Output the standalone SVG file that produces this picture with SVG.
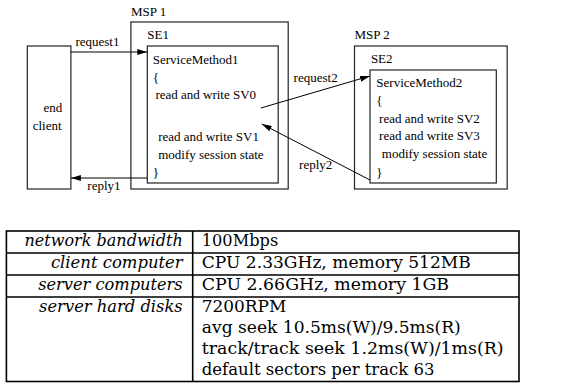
<svg xmlns="http://www.w3.org/2000/svg" width="570" height="383" viewBox="0 0 570 383">
<defs>
<marker id="ah" viewBox="0 0 10 6" refX="10" refY="3" markerWidth="10" markerHeight="6" markerUnits="userSpaceOnUse" orient="auto">
<path d="M0,0 L10,3 L0,6 Z" fill="#000"/>
</marker>
<style>
.box{fill:none;stroke:#222;stroke-width:1.2}
.t{font-family:"Liberation Serif","Times New Roman",serif;font-size:13px;fill:#000}
.c{stroke:#000;stroke-width:1;fill:none;marker-end:url(#ah)}
.tl{stroke:#000;stroke-width:1.6;fill:none}
.ti{font-family:"DejaVu Serif","Liberation Serif",serif;font-style:italic;font-size:16px;fill:#000}
.tr{font-family:"DejaVu Serif","Liberation Serif",serif;font-size:16px;fill:#000}
</style>
</defs>
<rect width="570" height="383" fill="#fff"/>
<g id="client">
<rect class="box" x="27.3" y="46" width="43.6" height="143"/>
<text class="t" x="43.6" y="112">end</text>
<text class="t" x="32.7" y="130">client</text>
</g>
<g id="msp1">
<text class="t" x="130.9" y="16">MSP 1</text>
<rect class="box" x="130.9" y="22" width="157.3" height="167"/>
</g>
<g id="se1">
<text class="t" x="147.3" y="39">SE1</text>
<rect class="box" x="147.3" y="46" width="130.9" height="137"/>
<text class="t" x="152.7" y="64">ServiceMethod1</text>
<text class="t" x="152.7" y="82">{</text>
<text class="t" x="155.4" y="99">read and write SV0</text>
<text class="t" x="158.2" y="141">read and write SV1</text>
<text class="t" x="158.2" y="159">modify session state</text>
<text class="t" x="152.7" y="177">}</text>
</g>
<g id="msp2">
<text class="t" x="354.5" y="39">MSP 2</text>
<rect class="box" x="354.5" y="46" width="152.7" height="143"/>
</g>
<g id="se2">
<text class="t" x="370.9" y="63">SE2</text>
<rect class="box" x="370" y="70" width="126.3" height="113"/>
<text class="t" x="376.3" y="87">ServiceMethod2</text>
<text class="t" x="376.3" y="105">{</text>
<text class="t" x="379.1" y="123">read and write SV2</text>
<text class="t" x="379.1" y="140">read and write SV3</text>
<text class="t" x="381.8" y="158">modify session state</text>
<text class="t" x="376.3" y="177">}</text>
</g>
<g id="connectors">
<line class="c" x1="70.9" y1="52" x2="147.3" y2="52"/>
<text class="t" x="75.4" y="46">request1</text>
<line class="c" x1="147.3" y1="178" x2="70.9" y2="178"/>
<text class="t" x="87.3" y="190">reply1</text>
<line class="c" x1="260.9" y1="108" x2="370" y2="76"/>
<text class="t" x="293.6" y="82">request2</text>
<line class="c" x1="370" y1="180" x2="261.8" y2="124"/>
<text class="t" x="299.1" y="169">reply2</text>
</g>
<g id="table">
<rect class="tl" x="6.4" y="231" width="512.6" height="150.5"/>
<line class="tl" x1="6.4" y1="253" x2="519" y2="253"/>
<line class="tl" x1="6.4" y1="275" x2="519" y2="275"/>
<line class="tl" x1="6.4" y1="297" x2="519" y2="297"/>
<line class="tl" x1="192.7" y1="231" x2="192.7" y2="381.5"/>
<text class="ti" x="182.7" y="246" text-anchor="end" textLength="158.2" lengthAdjust="spacingAndGlyphs">network bandwidth</text>
<text class="ti" x="182.7" y="268" text-anchor="end" textLength="131.8" lengthAdjust="spacingAndGlyphs">client computer</text>
<text class="ti" x="182.7" y="290" text-anchor="end" textLength="144.5" lengthAdjust="spacingAndGlyphs">server computers</text>
<text class="ti" x="182.7" y="312" text-anchor="end" textLength="143.6" lengthAdjust="spacingAndGlyphs">server hard disks</text>
<text class="tr" x="201.8" y="246" textLength="76.4" lengthAdjust="spacingAndGlyphs">100Mbps</text>
<text class="tr" x="201.8" y="268" textLength="269" lengthAdjust="spacingAndGlyphs">CPU 2.33GHz, memory 512MB</text>
<text class="tr" x="201.8" y="290" textLength="247.3" lengthAdjust="spacingAndGlyphs">CPU 2.66GHz, memory 1GB</text>
<text class="tr" x="201.8" y="312" textLength="84.5" lengthAdjust="spacingAndGlyphs">7200RPM</text>
<text class="tr" x="201.8" y="333" textLength="259" lengthAdjust="spacingAndGlyphs">avg seek 10.5ms(W)/9.5ms(R)</text>
<text class="tr" x="201.8" y="354" textLength="301.8" lengthAdjust="spacingAndGlyphs">track/track seek 1.2ms(W)/1ms(R)</text>
<text class="tr" x="201.8" y="375" textLength="232.7" lengthAdjust="spacingAndGlyphs">default sectors per track 63</text>
</g>
</svg>
